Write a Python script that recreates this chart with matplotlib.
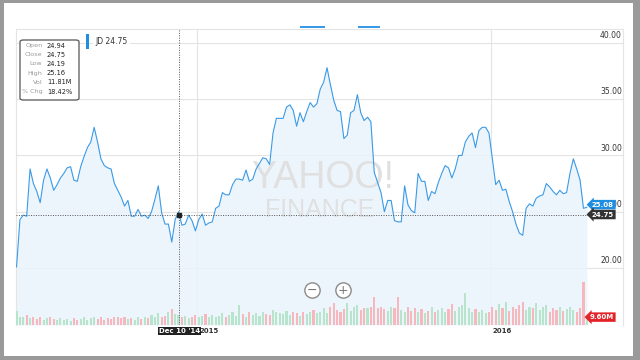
import matplotlib
matplotlib.use("Agg")
import matplotlib.pyplot as plt
import matplotlib.dates as mdates
import matplotlib.transforms as mtransforms
from matplotlib.patches import FancyBboxPatch, Rectangle
import numpy as np
import pandas as pd

# JD daily chart, May 2014 - Apr 2016
start_date = "2014-05-22"
end_date = "2016-04-29"
prices = [
    20.1, 24.3, 24.7, 24.6, 28.8, 27.5, 26.8, 25.8, 27.8, 28.8,
    28.0, 26.9, 27.4, 28.0, 28.4, 28.9, 29.0, 27.8, 27.7, 29.0,
    29.9, 30.7, 31.2, 32.5, 31.2, 29.7, 29.1, 28.9, 28.8, 27.5,
    26.9, 26.3, 25.5, 26.0, 24.6, 24.6, 25.2, 24.6, 24.7, 24.4,
    25.0, 26.1, 27.3, 24.9, 23.9, 23.9, 22.3, 24.3, 25.0, 23.8,
    23.9, 24.7, 24.2, 23.3, 24.3, 24.8, 23.8, 24.0, 24.1, 25.3,
    25.5, 26.7, 26.5, 26.5, 27.4, 27.9, 27.9, 27.8, 28.7, 27.7,
    27.9, 28.8, 29.3, 29.8, 29.7, 29.2, 32.0, 33.3, 33.3, 33.3,
    34.3, 34.5, 34.0, 32.6, 33.8, 33.0, 33.9, 34.7, 34.3, 34.6,
    35.9, 36.5, 37.8, 36.3, 34.9, 34.0, 33.9, 31.5, 31.8, 33.8,
    34.0, 35.4, 33.8, 33.1, 33.4, 33.0, 28.5, 27.6, 26.7, 25.0,
    26.0, 26.0, 24.2, 24.1, 24.1, 27.3, 25.6, 25.1, 24.9, 28.4,
    27.7, 27.7, 26.0, 26.8, 26.6, 27.6, 28.4, 29.1, 28.9, 28.0,
    28.8, 30.0, 30.0, 31.2, 31.7, 32.0, 30.7, 32.2, 32.5, 32.5,
    32.0, 29.7, 27.4, 27.8, 26.9, 27.0, 25.9, 25.0, 23.9, 23.1,
    22.9, 25.3, 25.7, 25.5, 26.2, 26.4, 26.5, 27.5, 27.2, 26.8,
    26.5, 26.9, 26.6, 26.7, 28.4, 29.7, 28.8, 27.8, 25.3, 25.4,
]
volumes_m = [
    17, 10, 9, 12, 8, 10, 7, 9, 6, 8, 10, 7, 6, 8,
    6, 7, 5, 8, 6, 7, 9, 6, 8, 10, 7, 9, 6, 8, 7, 10, 9, 8, 10, 7,
    8, 6, 9, 7, 10, 8, 12, 9, 14, 10, 11, 16, 19, 13,
    12, 9, 11, 8, 10, 12, 9, 11, 13, 10, 12, 9, 11, 14, 10, 12, 15, 11,
    24, 13, 10, 15, 12, 14, 11, 16, 13, 12, 18, 15, 14, 13, 17, 12, 15, 14, 11, 16, 13, 15, 18, 14,
    16, 20, 14, 22, 26, 18, 15, 19, 26, 17, 21, 24, 18, 20, 20, 22, 33, 20, 22, 19, 17, 22, 20, 33,
    18, 15, 22, 17, 20, 16, 19, 14, 17, 21, 15, 18, 20, 16, 19, 25, 17, 22, 24, 38, 20, 16, 19, 15, 18, 14, 16,
    22, 18, 25, 20, 28, 17, 21, 19, 24, 27, 18, 22, 20, 26, 18, 21, 24, 16, 20, 18, 22, 17, 19, 21, 18, 16, 20, 51, 9.6,
]
price_ticks = [20, 25, 30, 35, 40]
year_ticks = ["2015-01-01", "2016-01-01"]
year_labels = ["2015", "2016"]
tip_labels = ["Open", "Close", "Low", "High", "Vol", "% Chg"]
tip_values = ["24.94", "24.75", "24.19", "25.16", "11.81M", "18.42%"]
cross_date = "2014-12-10"
cross_label = "Dec 10 '14"
cross_price = 24.75
last_price = 25.08
last_volume = "9.60M"
ticker = "JD"

BLUE = "#3a9ae6"
W, H = 640, 360

dates = pd.date_range(start_date, end_date, periods=len(prices))
x = mdates.date2num(dates)
jan15 = mdates.date2num(pd.Timestamp("2015-01-01"))

fig = plt.figure(figsize=(6.4, 3.6), dpi=100)
fig.patch.set_facecolor("white")

# grey frame around the screenshot
for r in [(0, 0, 4, H), (W - 7, 0, 7, H), (0, 0, W, 3), (0, H - 4, W, 4)]:
    fig.add_artist(Rectangle((r[0] / W, 1 - (r[1] + r[3]) / H), r[2] / W, r[3] / H,
                             transform=fig.transFigure, color="#9a9a9a", lw=0))

rect = [16 / W, 35 / H, 607 / W, 296 / H]
ax = fig.add_axes(rect)
vax = fig.add_axes(rect, sharex=ax)
lax = fig.add_axes(rect, sharex=ax)
for a in (vax, lax):
    a.patch.set_visible(False)
for a in (ax, vax, lax):
    a.set_xticks([])
    a.set_yticks([])
    for s in a.spines.values():
        s.set_visible(False)
for side in ("top", "left", "right"):
    ax.spines[side].set_visible(True)
    ax.spines[side].set_color("#e4e4e4")
    ax.spines[side].set_linewidth(0.8)

ax.set_xlim(jan15 - 224.7, jan15 + 528.9)
ylim = (14.93, 41.24)
ax.set_ylim(*ylim)
lax.set_ylim(*ylim)
vax.set_ylim(0, 355)

# grid
for v in price_ticks:
    ax.axhline(v, color="#e4e4e4", lw=0.8, zorder=0)
for d in year_ticks:
    ax.axvline(mdates.date2num(pd.Timestamp(d)), color="#e4e4e4", lw=0.8, zorder=0)

# area
ax.fill_between(x, prices, ylim[0], color="#e9f3fc", alpha=0.85, lw=0, zorder=0.5)

# watermark
wm_font = ["Liberation Sans Narrow", "Liberation Sans"]
ax.text(0.506, 0.497, "YAHOO!", transform=ax.transAxes, ha="center", va="center",
        fontsize=27, color="#e0e0e0", family=wm_font, zorder=1)
ax.text(0.50, 0.389, "FINANCE", transform=ax.transAxes, ha="center", va="center",
        fontsize=18, color="#e0e0e0", family=wm_font, zorder=1)

# volume bars
chg = np.diff(np.r_[prices[0], prices])
colors = ["#b8e4cc" if c >= 0 else "#f6b8bd" for c in chg]
vax.bar(x, volumes_m, width=2.6, color=colors, lw=0)

# price line
lax.plot(x, prices, color=BLUE, lw=0.8, zorder=3)

# crosshair
cx = mdates.date2num(pd.Timestamp(cross_date))
lax.axvline(cx, color="#555555", lw=0.7, ls=(0, (1, 1.5)), zorder=4)
lax.plot([ax.get_xlim()[0], x[-1] + 3], [cross_price] * 2, color="#555555", lw=0.7,
         ls=(0, (1, 1.5)), zorder=4)
lax.plot([cx], [cross_price], "s", ms=3, color="#222222", zorder=5)

# right-hand price labels
blend = mtransforms.blended_transform_factory(lax.transAxes, lax.transData)
for v in price_ticks:
    lax.text(0.998, v + 0.25, f"{v:.2f}", transform=blend, ha="right", va="bottom",
             fontsize=5.5, color="#333333")

lax.text(0.985, last_price + 0.55, f"{last_price:.2f}", transform=blend, ha="right", va="center",
         fontsize=5, color="white", weight="bold", zorder=6,
         bbox=dict(boxstyle="larrow,pad=0.25", fc="#1f8de0", ec="none"))
lax.text(0.985, cross_price, f"{cross_price:.2f}", transform=blend, ha="right", va="center",
         fontsize=5, color="white", weight="bold", zorder=7,
         bbox=dict(boxstyle="larrow,pad=0.25", fc="#333333", ec="none"))
lax.text(0.985, ylim[0] + 0.7, last_volume, transform=blend, ha="right", va="center",
         fontsize=5, color="white", weight="bold", zorder=7,
         bbox=dict(boxstyle="larrow,pad=0.25", fc="#e3242b", ec="none"))

# x labels
xblend = mtransforms.blended_transform_factory(lax.transData, lax.transAxes)
for d, lab in zip(year_ticks, year_labels):
    lax.text(mdates.date2num(pd.Timestamp(d)) + 2.5, -0.02, lab, transform=xblend,
             ha="left", va="center", fontsize=5, color="#333333", weight="bold")
lax.text(cx, -0.02, cross_label, transform=xblend, ha="center", va="center",
         fontsize=5, color="white", weight="bold", zorder=8,
         bbox=dict(boxstyle="square,pad=0.15", fc="#222222", ec="none"))

# legend
fig.add_artist(Rectangle((86 / W, 1 - 49 / H), 3 / W, 15 / H, transform=fig.transFigure,
                         color="#1f8de0", lw=0))
fig.text(95 / W, 1 - 42 / H, f"{ticker} {cross_price:.2f}", ha="left", va="center",
         fontsize=5.5, color="#333333",
         bbox=dict(boxstyle="square,pad=0.3", fc="white", ec="none"))

# tooltip box
fig.add_artist(FancyBboxPatch((20 / W, 1 - 100 / H), 59 / W, 60 / H,
                              boxstyle="round,pad=0,rounding_size=0.005",
                              transform=fig.transFigure, fc="white", ec="#555555", lw=0.9))
for i, (lab, val) in enumerate(zip(tip_labels, tip_values)):
    yy = 1 - (45.5 + i * 9.2) / H
    fig.text(42.5 / W, yy, lab, ha="right", va="center", fontsize=4.6, color="#9a9a9a")
    fig.text(47 / W, yy, val, ha="left", va="center", fontsize=4.8, color="#222222")

# zoom buttons
for px, sym in [(312, "\u2212"), (343, "+")]:
    lax.plot([px / W], [1 - 290 / H], "o", ms=11, mfc="white", mec="#8a8a8a", mew=1,
             transform=fig.transFigure, clip_on=False, zorder=9)
    fig.text(px / W, 1 - 290.5 / H, sym, ha="center", va="center", fontsize=9,
             color="#777777", zorder=10)

# range selector dashes at top
for x0, x1 in [(300, 325), (358, 380)]:
    fig.add_artist(Rectangle((x0 / W, 1 - 28 / H), (x1 - x0) / W, 2 / H,
                             transform=fig.transFigure, color="#3a9ae6", lw=0))

fig.savefig("out.png", dpi=100)
plt.close(fig)
